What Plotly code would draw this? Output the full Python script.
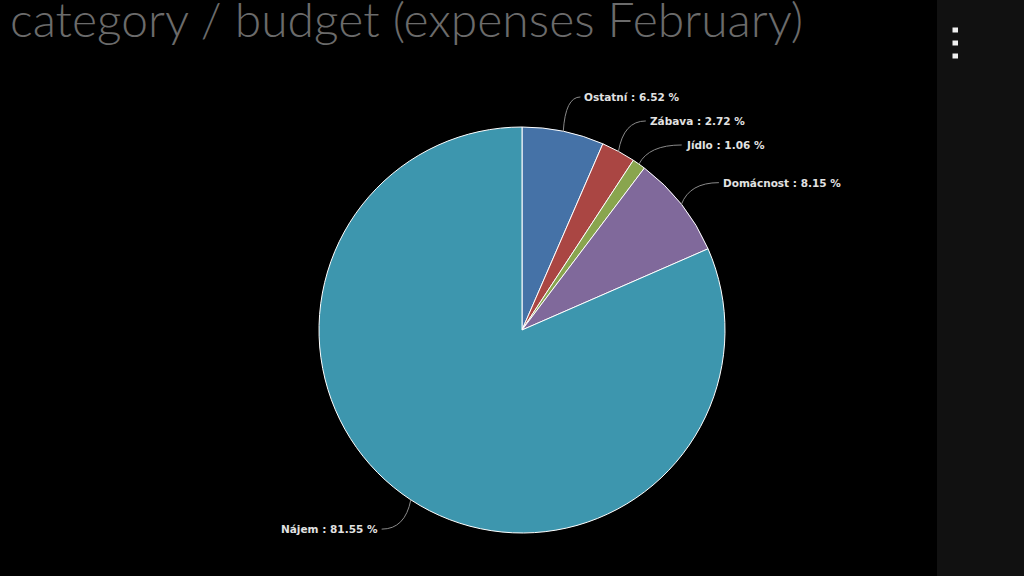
import math
import plotly.graph_objects as go

categories = ["Ostatní", "Zábava", "Jídlo", "Domácnost", "Nájem"]
percentages = [6.52, 2.72, 1.06, 8.15, 81.55]
colors = ["#4572A7", "#AA4643", "#89A54E", "#80699B", "#3D96AE"]
title_text = "category / budget (expenses February)"

W, H = 1024, 576
CX, CY, R = 522, 330, 203  # pie centre / radius in pixels
DIST = 35
MIN_GAP = 24


def px(x):
    return x / W


def py(y):
    return 1 - y / H


fig = go.Figure()
fig.add_trace(go.Pie(
    labels=categories,
    values=percentages,
    marker=dict(colors=colors, line=dict(color="#ffffff", width=1)),
    sort=False,
    direction="clockwise",
    rotation=0,
    textinfo="none",
    hoverinfo="label+percent",
    showlegend=False,
    domain=dict(x=[px(CX - R), px(CX + R)], y=[py(CY + R), py(CY - R)]),
))

# label layout (Highcharts-like): place on circle R+DIST, push apart, recompute x
total = sum(percentages)
cum = 0.0
items = []
for name, v in zip(categories, percentages):
    mid = (cum + v / 2) / total * 2 * math.pi
    cum += v
    s, c = math.sin(mid), math.cos(mid)
    items.append(dict(name=name, v=v, s=s, c=c,
                      x0=CX + R * s, y0=CY - R * c,
                      x1=CX + (R + DIST) * s, y1=CY - (R + DIST) * c,
                      right=s >= 0))

right_items = sorted([it for it in items if it["right"]], key=lambda it: it["y1"])
prev = None
for it in right_items:
    if prev is not None and it["y1"] - prev["y1"] < MIN_GAP:
        it["y1"] = prev["y1"] + MIN_GAP
        dy = it["y1"] - CY
        rr = R + DIST
        if abs(dy) < rr:
            it["x1"] = CX + math.sqrt(rr * rr - dy * dy)
    prev = it

shapes = []
annotations = []
for it in items:
    sign = 1 if it["right"] else -1
    x0, y0, x1, y1 = it["x0"], it["y0"], it["x1"], it["y1"]
    x2 = x1 + sign * 10
    shapes.append(dict(
        type="path", xref="paper", yref="paper",
        path=f"M {px(x0)},{py(y0)} Q {px(x0 + (x1 - x0) * 0.3)},{py(y1)} {px(x2)},{py(y1)}",
        line=dict(color="#8a8a8a", width=1),
    ))
    annotations.append(dict(
        x=px(x2 + sign * 2), y=py(y1), xref="paper", yref="paper",
        text=f"<b>{it['name']} : {it['v']:.2f} %</b>", showarrow=False,
        xanchor="left" if it["right"] else "right", yanchor="middle",
        font=dict(family="DejaVu Sans", size=10.5, color="#e2e2e2"),
    ))

# right side strip with menu dots
shapes.append(dict(type="rect", xref="paper", yref="paper",
                   x0=px(937), x1=1, y0=0, y1=1,
                   fillcolor="#111111", line=dict(width=0), layer="below"))
for dy in (30, 43, 56):
    shapes.append(dict(type="rect", xref="paper", yref="paper",
                       x0=px(952.5), x1=px(958), y0=py(dy + 2.5), y1=py(dy - 2.5),
                       fillcolor="#f0f0f0", line=dict(width=0)))

annotations.append(dict(
    x=px(8), y=py(38), xref="paper", yref="paper",
    text=title_text, showarrow=False, xanchor="left", yanchor="bottom",
    font=dict(family="Lato", size=48, color="#6b6b6b", weight=300),
    yshift=-11,
))

fig.update_layout(
    width=W, height=H,
    margin=dict(l=0, r=0, t=0, b=0),
    paper_bgcolor="#000000",
    plot_bgcolor="#000000",
    shapes=shapes,
    annotations=annotations,
)

fig.write_html(
    "out.html",
    config={"displayModeBar": False},
    post_script="document.body.style.margin='0';document.body.style.background='#000000';",
)
